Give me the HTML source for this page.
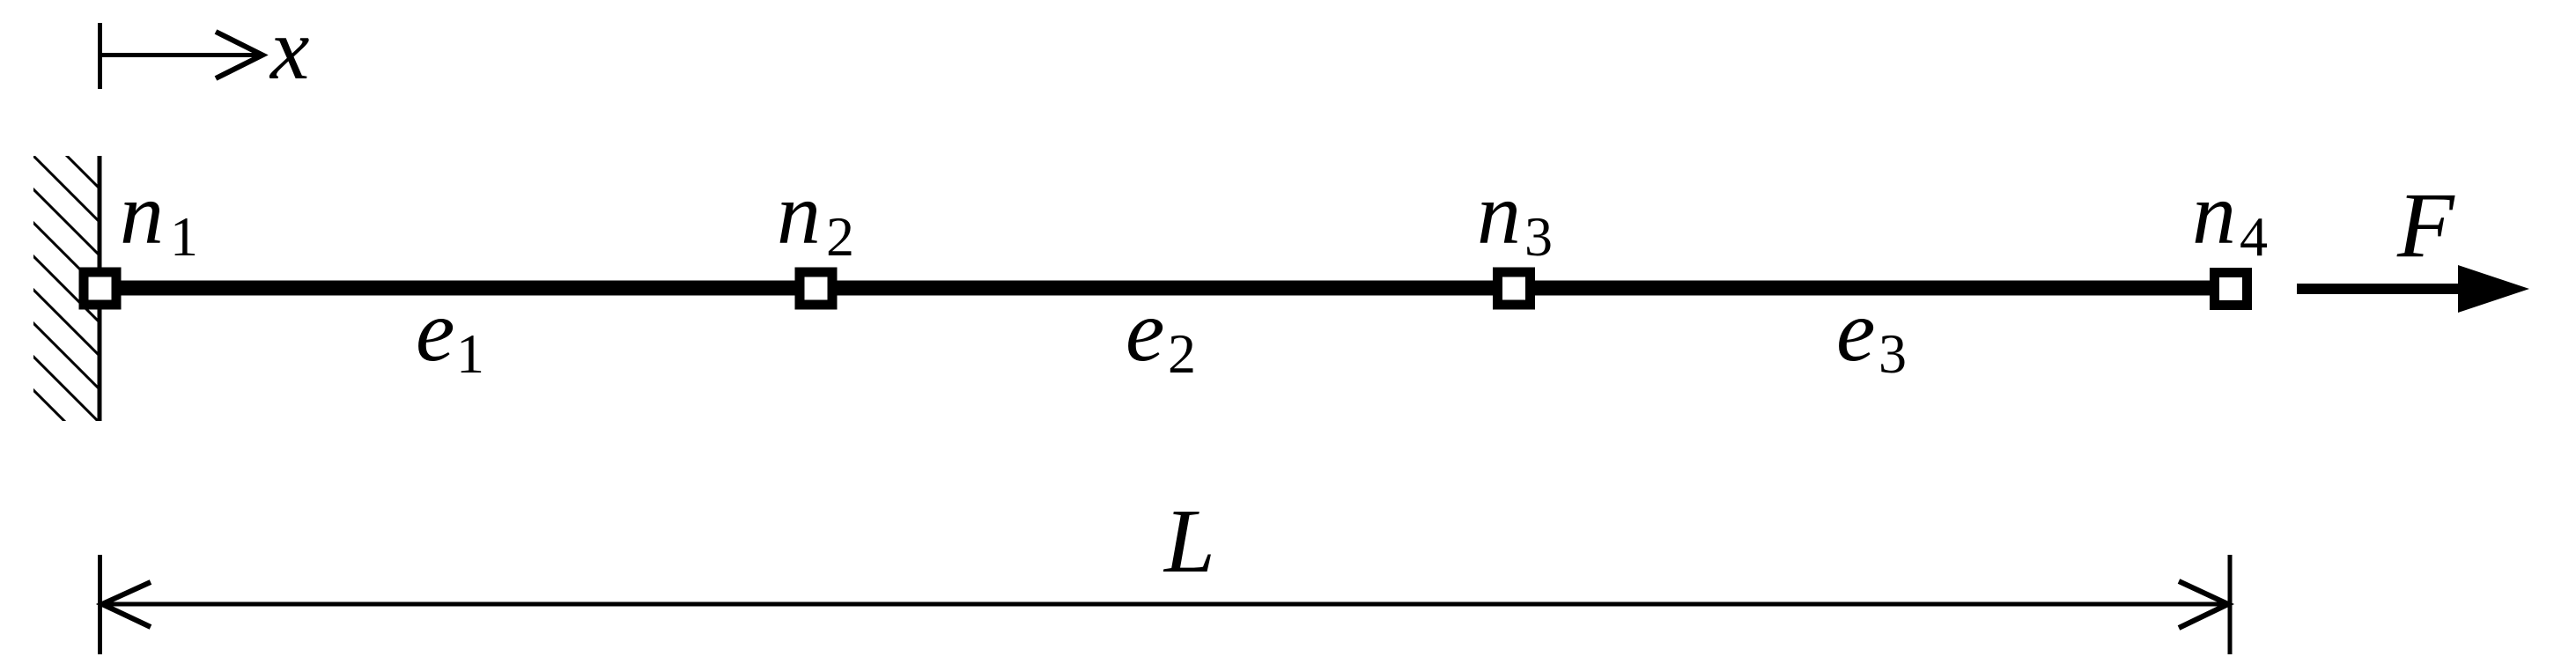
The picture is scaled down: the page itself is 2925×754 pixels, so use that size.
<!DOCTYPE html>
<html><head><style>html,body{margin:0;padding:0;background:#fff;}svg{display:block}</style></head>
<body>
<svg width="2925" height="754" viewBox="0 0 2925 754" xmlns="http://www.w3.org/2000/svg">
<defs><clipPath id="c"><rect x="38" y="177" width="75" height="301"/></clipPath></defs>
<g stroke="#000" fill="none" stroke-linecap="butt">
  <!-- x axis -->
  <line x1="113.5" y1="26" x2="113.5" y2="101" stroke-width="5"/>
  <line x1="113.5" y1="62.5" x2="298" y2="62.5" stroke-width="5"/>
  <polyline points="245,36 298,62.5 245,89" stroke-width="6"/>
  <!-- wall -->
  <line x1="113" y1="177" x2="113" y2="478" stroke-width="5"/>
  <g clip-path="url(#c)" stroke-width="3">
    <line x1="0" y1="101" x2="200" y2="301"/>
    <line x1="0" y1="139" x2="200" y2="339"/>
    <line x1="0" y1="177" x2="200" y2="377"/>
    <line x1="0" y1="215" x2="200" y2="415"/>
    <line x1="0" y1="253" x2="200" y2="453"/>
    <line x1="0" y1="291" x2="200" y2="491"/>
    <line x1="0" y1="329" x2="200" y2="529"/>
    <line x1="0" y1="367" x2="200" y2="567"/>
    <line x1="0" y1="405" x2="200" y2="605"/>
  </g>
  <!-- beam -->
  <line x1="113" y1="327" x2="2533" y2="327" stroke-width="17"/>
  <!-- F arrow -->
  <line x1="2608" y1="328" x2="2800" y2="328" stroke-width="12"/>
  <!-- dimension -->
  <line x1="113.5" y1="630" x2="113.5" y2="743" stroke-width="5"/>
  <line x1="2532" y1="630" x2="2532" y2="743" stroke-width="5"/>
  <line x1="115" y1="686" x2="2530" y2="686" stroke-width="5"/>
  <polyline points="171,661 116,686 171,712" stroke-width="6"/>
  <polyline points="2474,660 2530,686 2474,713" stroke-width="6"/>
</g>
<polygon points="2791,301 2872,328 2791,355" fill="#000"/>
<!-- nodes -->
<g fill="#fff" stroke="#000" stroke-width="11">
  <rect x="95" y="309" width="37" height="37"/>
  <rect x="908" y="309" width="37" height="37"/>
  <rect x="1700.5" y="309" width="37" height="37"/>
  <rect x="2514.5" y="309.5" width="37" height="37"/>
</g>
<g font-family="'Liberation Serif', serif" font-style="italic" fill="#000">
  <text x="307" y="89" font-size="100">x</text>
  <text x="136" y="276" font-size="100">n</text>
  <text x="882" y="276" font-size="100">n</text>
  <text x="1677" y="276" font-size="100">n</text>
  <text x="2489" y="276" font-size="100">n</text>
  <text x="472" y="409" font-size="100">e</text>
  <text x="1278" y="409" font-size="100">e</text>
  <text x="2085" y="409" font-size="100">e</text>
  <text x="1322" y="649" font-size="104">L</text>
  <text x="2722" y="291" font-size="106">F</text>
</g>
<g font-family="'Liberation Serif', serif" font-size="64" fill="#000">
  <text x="193" y="290">1</text>
  <text x="938" y="290">2</text>
  <text x="1731" y="290">3</text>
  <text x="2543" y="290">4</text>
  <text x="518" y="423">1</text>
  <text x="1326" y="423">2</text>
  <text x="2133" y="423">3</text>
</g>
</svg>
</body></html>
